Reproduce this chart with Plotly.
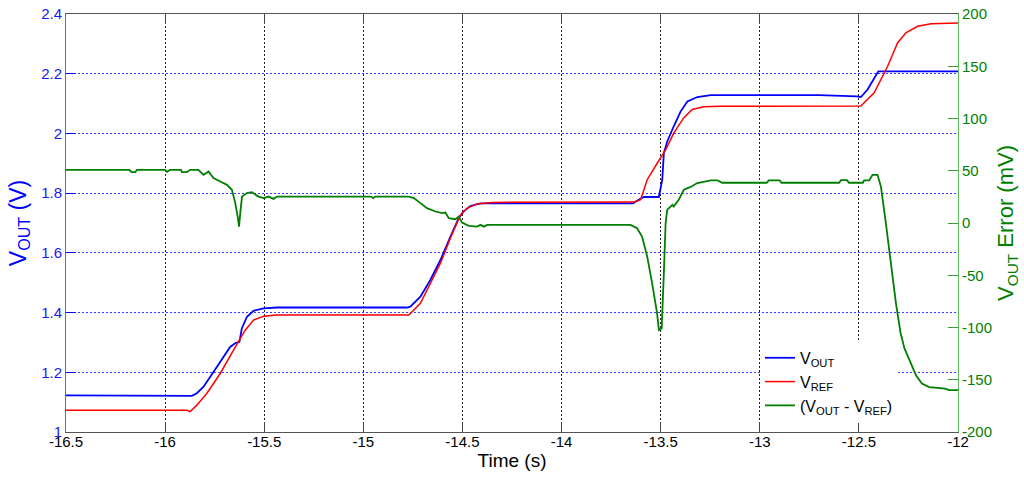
import plotly.graph_objects as go

# ---------------- data ----------------
t_vout = [-16.5, -16.0, -15.99, -15.97, -15.93, -15.865, -15.84, -15.807, -15.756, -15.706,
          -15.672, -15.645, -15.625, -15.613, -15.587, -15.554, -15.503, -15.436, -14.78, -14.763,
          -14.712, -14.662, -14.611, -14.561, -14.519, -14.495, -14.46, -14.409, -13.64, -13.60,
          -13.584, -13.509, -13.492, -13.484, -13.467, -13.434, -13.399, -13.365, -13.315, -13.247,
          -12.95, -12.90, -12.70, -12.51, -12.49, -12.456, -12.402, -12.0]
v_out = [1.123, 1.123, 1.121, 1.123, 1.121, 1.121, 1.130, 1.151, 1.201, 1.252,
         1.285, 1.298, 1.302, 1.347, 1.386, 1.406, 1.414, 1.417, 1.417, 1.420,
         1.453, 1.509, 1.576, 1.654, 1.716, 1.738, 1.757, 1.766, 1.766, 1.782,
         1.787, 1.787, 1.845, 1.934, 1.973, 2.024, 2.074, 2.107, 2.122, 2.128,
         2.129, 2.127, 2.128, 2.124, 2.122, 2.147, 2.208, 2.208]

t_vref = [-16.5, -16.18, -16.17, -16.16, -15.89, -15.874, -15.84, -15.79, -15.722, -15.655,
          -15.63, -15.596, -15.554, -15.503, -15.436, -14.77, -14.712, -14.662, -14.611, -14.561,
          -14.51, -14.476, -14.426, -14.35, -13.635, -13.601, -13.568, -13.517, -13.475, -13.434,
          -13.384, -13.341, -13.283, -13.197, -12.49, -12.423, -12.355, -12.305, -12.263, -12.204,
          -12.136, -12.0]
v_ref = [1.073, 1.073, 1.075, 1.073, 1.073, 1.068, 1.090, 1.129, 1.196, 1.274,
         1.302, 1.341, 1.375, 1.388, 1.392, 1.392, 1.431, 1.498, 1.565, 1.649,
         1.727, 1.750, 1.764, 1.769, 1.770, 1.778, 1.845, 1.901, 1.945, 2.001,
         2.052, 2.080, 2.089, 2.091, 2.092, 2.136, 2.225, 2.303, 2.337, 2.359,
         2.367, 2.370]

t_err = [-16.5, -16.18, -16.17, -16.15, -16.143, -16.0, -15.99, -15.975, -15.92, -15.915,
         -15.89, -15.874, -15.832, -15.806, -15.781, -15.756, -15.722, -15.688, -15.663, -15.646,
         -15.634, -15.627, -15.621, -15.612, -15.587, -15.562, -15.529, -15.503, -15.478, -15.453,
         -15.436, -14.96, -14.95, -14.94, -14.771, -14.745, -14.712, -14.679, -14.636, -14.603,
         -14.586, -14.569, -14.535, -14.519, -14.502, -14.468, -14.426, -14.409, -14.392, -14.375,
         -13.652, -13.619, -13.594, -13.568, -13.543, -13.518, -13.509, -13.495, -13.484, -13.475,
         -13.467, -13.441, -13.434, -13.409, -13.383, -13.349, -13.315, -13.247, -13.214, -13.189,
         -12.965, -12.955, -12.90, -12.89, -12.60, -12.59, -12.56, -12.55, -12.48, -12.474,
         -12.448, -12.431, -12.406, -12.389, -12.364, -12.34, -12.313, -12.29, -12.27, -12.237,
         -12.212, -12.182, -12.145, -12.065, -12.045, -12.0]
v_err = [50.9, 50.9, 48.7, 48.7, 50.9, 50.9, 49.0, 50.9, 50.9, 48.7,
         48.7, 50.9, 50.9, 46.1, 49.3, 43.0, 39.7, 36.5, 31.8, 19.0,
         6.1, -3.5, 9.4, 25.3, 28.6, 29.5, 25.3, 23.8, 25.3, 23.1,
         25.3, 25.3, 23.8, 25.3, 25.3, 23.8, 19.0, 14.2, 11.0, 9.4,
         10.0, 4.6, 3.6, 6.1, 0.4, -2.8, -3.5, -1.8, -3.5, -1.8,
         -1.8, -5.0, -13.0, -32.0, -57.7, -86.5, -102.5, -101.0, -48.2, -0.2,
         12.6, 17.4, 15.7, 22.2, 31.8, 34.5, 38.2, 40.7, 40.7, 38.5,
         38.5, 40.7, 40.7, 38.5, 38.5, 41.0, 41.0, 38.5, 38.5, 40.7,
         40.7, 46.1, 46.1, 35.0, -0.2, -38.0, -76.9, -105.0, -120.0, -134.5,
         -145.7, -153.7, -157.0, -158.5, -160.0, -160.0]

x_tick_vals = [-16.5, -16, -15.5, -15, -14.5, -14, -13.5, -13, -12.5, -12]
x_tick_text = ["-16.5", "-16", "-15.5", "-15", "-14.5", "-14", "-13.5", "-13", "-12.5", "-12"]
y_tick_vals = [1, 1.2, 1.4, 1.6, 1.8, 2, 2.2, 2.4]
y_tick_text = ["1", "1.2", "1.4", "1.6", "1.8", "2", "2.2", "2.4"]
y2_tick_vals = [-200, -150, -100, -50, 0, 50, 100, 150, 200]
y2_tick_text = ["-200", "-150", "-100", "-50", "0", "50", "100", "150", "200"]

FONT = "Arial, Liberation Sans, sans-serif"
BLUE = "#0000ff"
RED = "#ff0000"
GREEN = "#007f00"

fig = go.Figure()
fig.add_trace(go.Scatter(x=t_vout, y=v_out, mode="lines", name="V<sub>OUT</sub>",
                         line=dict(color=BLUE, width=1.8), yaxis="y"))
fig.add_trace(go.Scatter(x=t_vref, y=v_ref, mode="lines", name="V<sub>REF</sub>",
                         line=dict(color=RED, width=1.5), yaxis="y"))
fig.add_trace(go.Scatter(x=t_err, y=v_err, mode="lines",
                         name="(V<sub>OUT</sub> - V<sub>REF</sub>)",
                         line=dict(color=GREEN, width=1.8), yaxis="y2"))

fig.update_layout(
    width=1024, height=481,
    margin=dict(l=66, r=66, t=14, b=49, autoexpand=False),
    paper_bgcolor="white", plot_bgcolor="white",
    font=dict(family=FONT, size=15, color="black"),
    showlegend=True,
    legend=dict(x=0.778, y=0.218, xanchor="left", yanchor="top",
                bgcolor="white", borderwidth=0, font=dict(size=16, color="black"),
                tracegroupgap=0),
    xaxis=dict(range=[-16.5, -12], tickmode="array", tickvals=x_tick_vals, ticktext=x_tick_text,
               ticks="inside", ticklen=10, tickcolor="#444", tickwidth=1,
               showgrid=True, gridcolor="#222", griddash="2px,2px", gridwidth=1,
               showline=True, linecolor="#555", linewidth=1, mirror="ticks", zeroline=False,
               tickfont=dict(size=15, color="black"), ticklabeloverflow="allow",
               ticklabelstandoff=-4,
               title=dict(text="Time (s)", font=dict(size=19, color="black"), standoff=0)),
    yaxis=dict(range=[1, 2.4], tickmode="array", tickvals=y_tick_vals, ticktext=y_tick_text,
               ticks="inside", ticklen=10, tickcolor=BLUE, tickwidth=1,
               showgrid=True, gridcolor="#3a3aff", griddash="2px,2px", gridwidth=1,
               showline=True, linecolor="#5a5aff", linewidth=1, zeroline=False,
               tickfont=dict(size=15, color="#1a1aee"), ticklabeloverflow="allow",
               title=dict(text="V<sub>OUT</sub> (V)", font=dict(size=23, color=BLUE), standoff=8)),
    yaxis2=dict(range=[-200, 200], overlaying="y", side="right", anchor="x",
                tickmode="array", tickvals=y2_tick_vals, ticktext=y2_tick_text,
                ticks="inside", ticklen=10, tickcolor="#3c9a3c", tickwidth=1,
                showgrid=False, zeroline=False,
                showline=True, linecolor="#5cb85c", linewidth=1,
                tickfont=dict(size=15, color=GREEN), ticklabeloverflow="allow",
                title=dict(text="V<sub>OUT</sub> Error (mV)", font=dict(size=22, color=GREEN), standoff=6)),
    yaxis3=dict(range=[1, 2.4], overlaying="y", side="right", anchor="x",
                tickmode="array", tickvals=y_tick_vals, ticks="inside", ticklen=10,
                tickcolor=BLUE, tickwidth=1, showticklabels=False,
                showgrid=False, zeroline=False, showline=False),
)

# remove the browser's default 8px body margin so the figure fills the window exactly
fig.write_html("out.html", config={"displayModeBar": False},
               post_script="document.body.style.margin='0';")
